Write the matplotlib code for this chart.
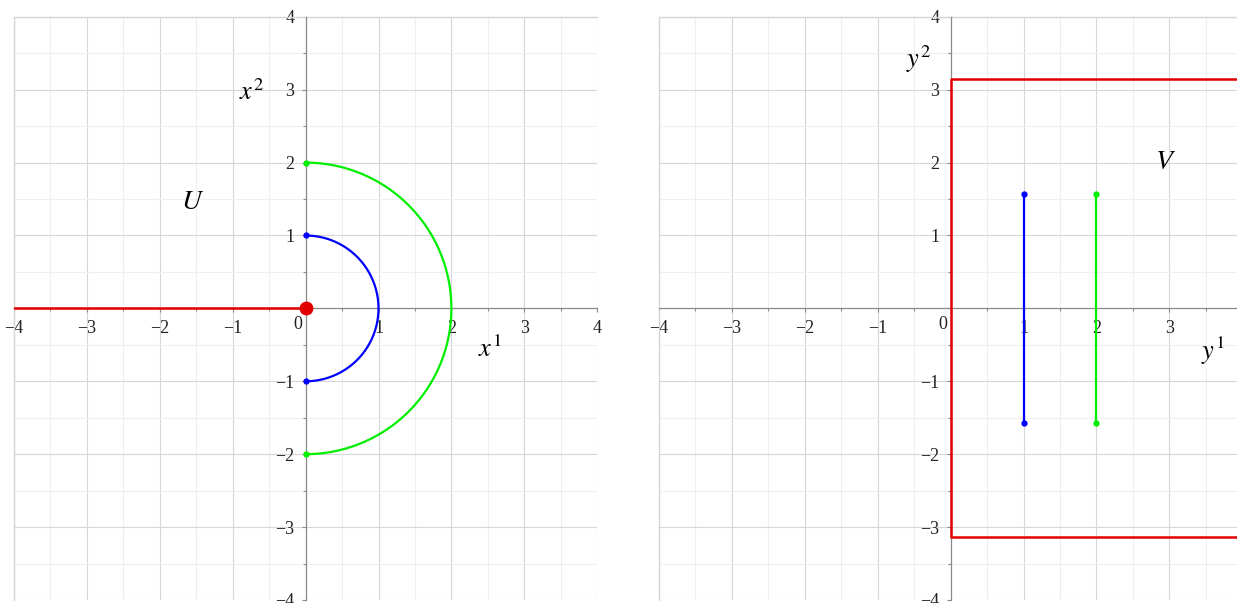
import numpy as np
import matplotlib
matplotlib.use('Agg')
import matplotlib.pyplot as plt
from matplotlib.ticker import MultipleLocator

plt.rcParams.update({
    'font.family': 'Liberation Serif',
    'mathtext.fontset': 'stix',
})

# Left panel (U): domain in x-plane
ticks = [-4, -3, -2, -1, 1, 2, 3, 4]
radii = [1, 2]
arc_colors = ['#0000ff', '#00ee00']
ray_x = [-4, 0]
ray_y = [0, 0]

# Right panel (V): image strip
strip_half = np.pi
seg_x = [1, 2]
seg_half = np.pi / 2
right_xlim = (-4, 3.93)

RED = '#e00000'
GRID_MAJ = '#d6d6d6'
GRID_MIN = '#efefef'
AX_COL = '#8a8a8a'
TICK_FS = 13


def style_axes(ax, xlim, xticks):
    ax.set_xlim(*xlim)
    ax.set_ylim(-4, 4)
    for s in ['top', 'right']:
        ax.spines[s].set_visible(False)
    for s in ['left', 'bottom']:
        ax.spines[s].set_position(('data', 0))
        ax.spines[s].set_color(AX_COL)
        ax.spines[s].set_linewidth(0.9)
    ax.xaxis.set_minor_locator(MultipleLocator(0.5))
    ax.yaxis.set_minor_locator(MultipleLocator(0.5))
    ax.set_xticks(xticks)
    ax.set_xticklabels([str(t).replace('-', '\u2212') for t in xticks])
    ax.set_yticks(ticks)
    ax.set_yticklabels([str(t).replace('-', '\u2212') for t in ticks])
    ax.tick_params(which='both', direction='out', color=AX_COL, width=0.8,
                   labelsize=TICK_FS, labelcolor='#222222')
    ax.tick_params(which='major', length=3, pad=5)
    ax.tick_params(which='minor', length=2)
    ax.grid(which='major', color=GRID_MAJ, linewidth=0.8)
    ax.grid(which='minor', color=GRID_MIN, linewidth=0.8)
    ax.set_axisbelow(True)
    ax.text(-0.05, -0.1, '0', ha='right', va='top', fontsize=TICK_FS, color='#222222')
    # plot border like the reference (top and left)
    ax.axhline(4, color=GRID_MAJ, lw=1.0, clip_on=False)
    ax.axvline(xlim[0], color=GRID_MAJ, lw=1.0, clip_on=False)


fig = plt.figure(figsize=(12.37, 6.03), dpi=100)
W, H = 1237, 603
unit = 72.9
ax1 = fig.add_axes([14 / W, 3 / H, 8 * unit / W, 8 * unit / H])
ax2 = fig.add_axes([659 / W, 3 / H, (right_xlim[1] - right_xlim[0]) * unit / W, 8 * unit / H])

# ---- left panel
style_axes(ax1, (-4, 4), ticks)
ax1.plot(ray_x, ray_y, color=RED, lw=1.8, zorder=3)
theta = np.linspace(-np.pi / 2, np.pi / 2, 200)
for r, c in zip(radii, arc_colors):
    ax1.plot(r * np.cos(theta), r * np.sin(theta), color=c, lw=1.6, zorder=3)
    ax1.plot([0, 0], [r, -r], 'o', color=c, ms=3.5, zorder=4)
ax1.plot([0], [0], 'o', color=RED, ms=9, zorder=5)
ax1.text(-1.55, 1.45, '$U$', fontsize=20, ha='center', va='center')
ax1.text(-0.74, 2.97, '$x^2$', fontsize=19, ha='center', va='center')
ax1.text(2.52, -0.55, '$x^1$', fontsize=19, ha='center', va='center')

# ---- right panel
style_axes(ax2, right_xlim, ticks[:-1])
ax2.plot([right_xlim[1] + 1, 0, 0, right_xlim[1] + 1],
         [strip_half, strip_half, -strip_half, -strip_half], color=RED, lw=1.8, zorder=3)
for x0, c in zip(seg_x, arc_colors):
    ax2.plot([x0, x0], [-seg_half, seg_half], color=c, lw=1.6, zorder=3)
    ax2.plot([x0, x0], [-seg_half, seg_half], 'o', color=c, ms=3.5, zorder=4)
ax2.text(2.95, 2.0, '$V$', fontsize=20, ha='center', va='center')
ax2.text(-0.44, 3.42, '$y^2$', fontsize=19, ha='center', va='center')
ax2.text(3.6, -0.58, '$y^1$', fontsize=19, ha='center', va='center')

fig.savefig('out.png', dpi=100)
